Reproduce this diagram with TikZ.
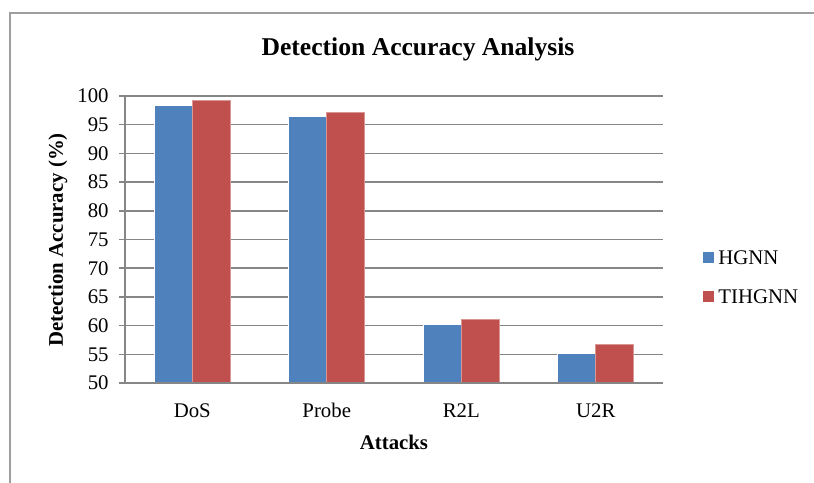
\documentclass[tikz,border=0pt]{standalone}
\usepackage{fontspec}
\setmainfont{Liberation Serif}
\definecolor{hgnnblue}{HTML}{4F81BD}
\definecolor{tihgnnred}{HTML}{C0504D}
\definecolor{gridgray}{HTML}{868686}
\tikzset{
    gridline/.style={draw=gridgray, line width=0.75pt},
    ticklabel/.style={anchor=east, inner sep=0pt, font=\fontsize{10.4}{12}\selectfont},
    catlabel/.style={inner sep=0pt, font=\fontsize{10.4}{12}\selectfont},
    axistitle/.style={inner sep=0pt, font=\fontsize{10.4}{12}\selectfont\bfseries},
    bar/.style={draw=white, line width=0.3pt},
}
\begin{document}
\begin{tikzpicture}[x=0.5pt, y=-0.5pt]
    \useasboundingbox (0,0) rectangle (814,482);
    \clip (0,0) rectangle (814,482);
    % chart frame
    \draw[draw=gridgray!80, line width=1pt] (10,490) -- (10,13) -- (820,13);
    \node[inner sep=0pt, font=\fontsize{12.8}{15}\selectfont\bfseries] (title) at (418,49) {Detection Accuracy Analysis};
    % grid and y ticks
    \foreach \v in {55,60,...,100} {
        \draw[gridline] (125,{383-(\v-50)*5.74}) -- (663,{383-(\v-50)*5.74});
    }
    \foreach \v in {50,55,...,100} {
        \draw[gridline] (119,{383-(\v-50)*5.74}) -- (125,{383-(\v-50)*5.74});
        \node[ticklabel] (tick\v) at (109,{383-(\v-50)*5.74}) {\v};
    }
    % bars
    \foreach \a/\b/\name [count=\i from 0] in {98.3/99.2/DoS, 96.4/97.1/Probe, 60.2/61.1/R2L, 55.1/56.8/U2R} {
        \pgfmathsetmacro\c{192.25+134.5*\i}
        \filldraw[bar, fill=hgnnblue] (\c-38,383) rectangle (\c,{383-(\a-50)*5.74});
        \filldraw[bar, fill=tihgnnred, draw=tihgnnred!60!white] (\c,383) rectangle (\c+38,{383-(\b-50)*5.74});
        \node[catlabel, anchor=base] (cat\i) at (\c,417) {\name};
    }
    \draw[gridline] (125,96) -- (125,383) -- (663,383);
    \node[axistitle] (xtitle) at (394,442) {Attacks};
    \node[axistitle, rotate=90] (ytitle) at (58,240) {Detection Accuracy (\%)};
    % legend
    \fill[hgnnblue] (703,252) rectangle (714,263);
    \node[catlabel, anchor=west] (leg1) at (718,258) {HGNN};
    \fill[tihgnnred] (703,291) rectangle (714,302);
    \node[catlabel, anchor=west] (leg2) at (718,297) {TIHGNN};
\end{tikzpicture}
\end{document}
